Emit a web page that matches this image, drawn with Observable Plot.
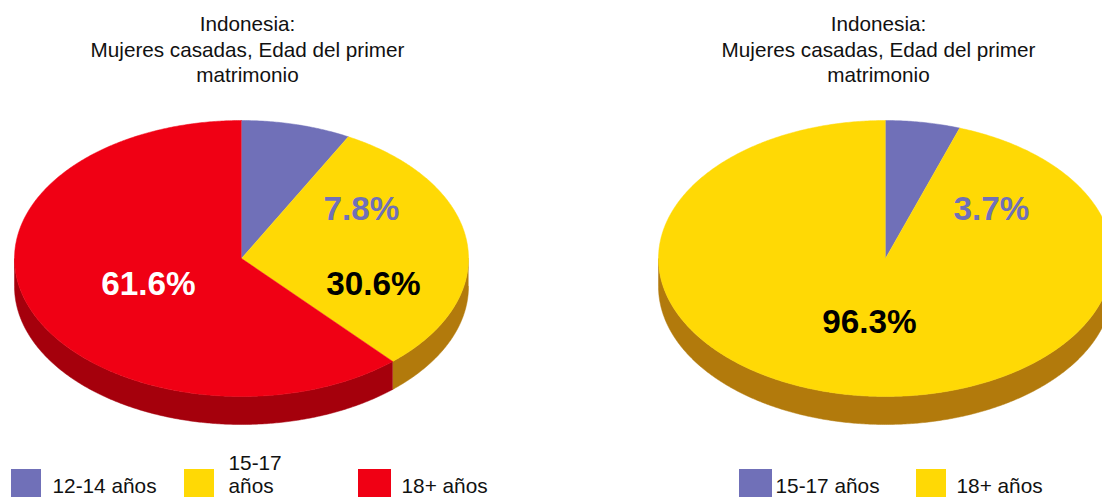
<!DOCTYPE html>
<html><head><meta charset="utf-8">
<script src="https://cdn.jsdelivr.net/npm/d3@7"></script>
<script src="https://cdn.jsdelivr.net/npm/@observablehq/plot@0.6"></script>
<style>html,body{margin:0;padding:0;background:#fff;overflow:hidden}svg{display:block}</style>
</head><body><div id="chart"></div>
<script>
// Data
const titleLines = ["Indonesia:", "Mujeres casadas, Edad del primer", "matrimonio"];
const leftCategories = ["12-14 años", "15-17 años", "18+ años"];
const leftShares = [7.8, 30.6, 61.6];
const leftLabels = ["7.8%", "30.6%", "61.6%"];
const rightCategories = ["15-17 años", "18+ años"];
const rightDrawnShares = [5.3, 94.7];   // the slice as drawn in the picture
const rightLabels = ["3.7%", "96.3%"];

// Styles: colours go by slice position, not by age group
const topColors = ["#7070B8", "#FFD905", "#F00014"];
const sideColors = ["#55558c", "#B27A0C", "#A5000C"];
const labelColorsLeft = ["#7070B8", "#000", "#fff"];
const labelColorsRight = ["#7070B8", "#000"];
const font = "Liberation Sans";

// Layout
const RX = 227, RY = 138, DEPTH = 28, CY = 258;
const pies = [
  {id: "L", cx: 241, titleX: 247, shares: leftShares, labels: leftLabels, labelColors: labelColorsLeft,
   labelPos: [[361, 209], [373, 284], [148, 284]]},
  {id: "R", cx: 885, titleX: 878, shares: rightDrawnShares, labels: rightLabels, labelColors: labelColorsRight,
   labelPos: [[991, 209], [869, 322]]}
];
const ROW = 492.5;
const legend = [
  {slot: 0, x1: 11, x2: 41, lines: [[leftCategories[0], 52, ROW]]},
  {slot: 1, x1: 184, x2: 214, lines: [["15-17", 228, 469], ["años", 228, ROW]]},
  {slot: 2, x1: 358, x2: 391, lines: [[leftCategories[2], 401, ROW]]},
  {slot: 0, x1: 739, x2: 772, lines: [[rightCategories[0], 775, ROW]]},
  {slot: 1, x1: 916, x2: 946, lines: [[rightCategories[1], 956, ROW]]}
];

const STEP = Math.PI / 360;
const arcAngles = (a0, a1) => {
  const n = Math.max(1, Math.ceil((a1 - a0) / STEP));
  return d3.range(n + 1).map(i => a0 + (a1 - a0) * i / n);
};

const faces = [], walls = [], labels = [];
for (const p of pies) {
  const arcs = d3.pie().sort(null)(p.shares);
  arcs.forEach((arc, i) => {
    const key = p.id + i;
    const px = a => p.cx + RX * Math.sin(a), py = a => CY - RY * Math.cos(a);
    const pts = arcAngles(arc.startAngle, arc.endAngle).map(a => ({x: px(a), y: py(a)}));
    [{x: p.cx, y: CY}, ...pts].forEach(q => faces.push({...q, key, fill: topColors[i]}));
    // the outer wall shows only on the front half of the ellipse
    const a0 = Math.max(arc.startAngle, Math.PI / 2), a1 = Math.min(arc.endAngle, 3 * Math.PI / 2);
    if (a1 > a0) {
      const as = arcAngles(a0, a1);
      const ring = [...as.map(a => ({x: px(a), y: py(a)})),
                    ...as.slice().reverse().map(a => ({x: px(a), y: py(a) + DEPTH}))];
      ring.forEach(q => walls.push({...q, key, fill: sideColors[i]}));
    }
    labels.push({text: p.labels[i], x: p.labelPos[i][0], y: p.labelPos[i][1], fill: p.labelColors[i]});
  });
}
const titles = pies.flatMap(p => titleLines.map((t, i) => ({text: t, x: p.titleX, y: [24, 50, 75][i]})));
const legendText = legend.flatMap(l => l.lines.map(([text, x, y]) => ({text, x, y})));

const chart = Plot.plot({
  width: 1102, height: 497, margin: 0,
  x: {domain: [0, 1102], range: [0, 1102], axis: null},
  y: {domain: [0, 497], range: [0, 497], axis: null},
  color: {type: "identity"},
  style: {background: "#fff", fontFamily: font},
  marks: [
    Plot.line(walls, {x: "x", y: "y", z: "key", fill: "fill", stroke: "fill", strokeWidth: 0.5}),
    Plot.line(faces, {x: "x", y: "y", z: "key", fill: "fill", stroke: "fill", strokeWidth: 0.5}),
    Plot.text(titles, {x: "x", y: "y", text: "text", fontSize: 20.7, fill: "#111", fontFamily: font}),
    Plot.text(labels, {x: "x", y: "y", text: "text", fill: "fill", fontSize: 33.3, fontWeight: "bold", fontFamily: font}),
    Plot.rect(legend, {x1: "x1", x2: "x2", y1: () => 469, y2: () => 497, fill: d => topColors[d.slot]}),
    Plot.text(legendText, {x: "x", y: "y", text: "text", textAnchor: "start", lineAnchor: "bottom", fontSize: 20.8, fill: "#111", fontFamily: font})
  ]
});
document.getElementById("chart").append(chart);
</script></body></html>
